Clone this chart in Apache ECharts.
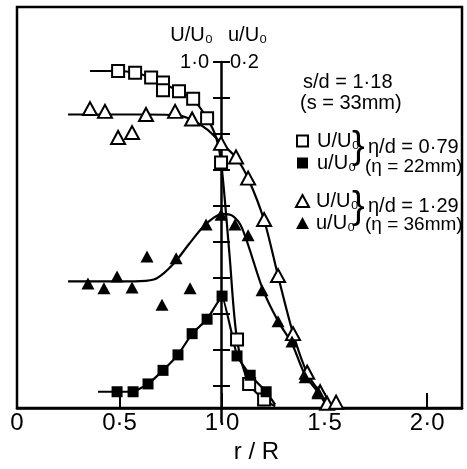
<!DOCTYPE html>
<html>
<head>
<meta charset="utf-8">
<script src="https://cdn.jsdelivr.net/npm/echarts@6/dist/echarts.min.js"></script>
<style>
    html, body { margin: 0; padding: 0; background: #fff; }
    #chart { width: 467px; height: 469px; }
</style>
</head>
<body>
<div id="chart"></div>
<script>
// r/R 轴刻度
const xTicks = [0, 0.5, 1.0, 1.5, 2.0];
// 中间纵轴刻度 (U/U0 与 u/U0)
const bigUTicks = [0.1, 0.2, 0.3, 0.4, 0.5, 0.6, 0.7, 0.8, 0.9, 1.0];

// η/d = 0.79  □ U/U0
const sqOpenR = [0.493, 0.576, 0.654, 0.712, 0.712, 0.790, 0.859, 0.927, 0.995, 1.073, 1.132, 1.205];
const sqOpenU = [0.969, 0.964, 0.950, 0.936, 0.914, 0.911, 0.889, 0.833, 0.706, 0.197, 0.069, 0.025];
const sqOpenCurveR = [0.356, 0.493, 0.576, 0.654, 0.712, 0.790, 0.859, 0.927, 0.970, 0.995, 1.035, 1.073, 1.132, 1.205, 1.259];
const sqOpenCurveU = [0.969, 0.969, 0.964, 0.950, 0.933, 0.911, 0.887, 0.833, 0.780, 0.710, 0.450, 0.197, 0.069, 0.025, 0.005];

// η/d = 0.79  ■ u/U0
const sqFillR = [0.488, 0.566, 0.639, 0.712, 0.785, 0.854, 0.927, 1.000, 1.073, 1.137, 1.215];
const sqFillU = [0.0094, 0.0094, 0.0139, 0.0217, 0.0306, 0.0428, 0.0511, 0.0644, 0.0300, 0.0189, 0.0094];
const sqFillCurveR = [0.395, 0.488, 0.566, 0.639, 0.712, 0.785, 0.854, 0.927, 1.000, 1.073, 1.137, 1.215, 1.259];
const sqFillCurveU = [0.0094, 0.0094, 0.0094, 0.0139, 0.0217, 0.0306, 0.0428, 0.0511, 0.0644, 0.0300, 0.0189, 0.0094, 0.0020];

// η/d = 1.29  △ U/U0
const triOpenR = [0.356, 0.429, 0.493, 0.561, 0.629, 0.771, 0.854, 0.995, 1.068, 1.127, 1.205, 1.273, 1.346, 1.415, 1.478, 1.512, 1.556];
const triOpenU = [0.861, 0.853, 0.778, 0.792, 0.844, 0.853, 0.831, 0.761, 0.722, 0.661, 0.542, 0.381, 0.214, 0.103, 0.047, 0.014, 0.017];
const triOpenCurveR = [0.249, 0.450, 0.630, 0.780, 0.854, 0.930, 0.995, 1.068, 1.127, 1.205, 1.273, 1.346, 1.415, 1.478, 1.530, 1.560];
const triOpenCurveU = [0.844, 0.844, 0.844, 0.842, 0.828, 0.800, 0.762, 0.720, 0.660, 0.540, 0.380, 0.215, 0.100, 0.045, 0.012, 0.000];

// η/d = 1.29  ▲ u/U0
const triFillR = [0.346, 0.424, 0.488, 0.561, 0.634, 0.707, 0.776, 0.844, 0.922, 0.995, 1.063, 1.127, 1.195, 1.273, 1.341, 1.405, 1.468];
const triFillU = [0.0717, 0.0689, 0.0756, 0.0694, 0.0872, 0.0594, 0.0861, 0.0689, 0.1056, 0.1111, 0.1056, 0.0994, 0.0678, 0.0500, 0.0383, 0.0178, 0.0094];
const triFillCurveR = [0.249, 0.450, 0.600, 0.680, 0.760, 0.840, 0.910, 0.960, 1.000, 1.050, 1.098, 1.200, 1.273, 1.341, 1.405, 1.468, 1.507];
const triFillCurveU = [0.0728, 0.0728, 0.0730, 0.0745, 0.0825, 0.0945, 0.1045, 0.1095, 0.1117, 0.1106, 0.1033, 0.0678, 0.0500, 0.0370, 0.0190, 0.0090, 0.0020];

const legendNames = { sqU: 'U/U₀', squ: 'u/U₀', triU: 'U/U₀', triu: 'u/U₀' };

const FONT = '"Liberation Sans", Arial, sans-serif';
const zip = (a, b) => a.map((v, i) => [v, b[i]]);
const dot = v => v === 0 ? '0' : v.toFixed(1).replace('.', '·');

let myChart = echarts.init(document.getElementById('chart'));
let option = {
    animation: false,
    textStyle: { fontFamily: FONT, color: '#000' },
    grid: [
        // 主图框
        { left: 17, top: 7, right: 5, bottom: 47, show: true, borderColor: '#000', borderWidth: 2.5 },
        // r/R = 1.0 处的中间纵轴
        { left: 221, top: 62, width: 1, bottom: 47 }
    ],
    xAxis: [
        {
            type: 'value', gridIndex: 0, min: 0, max: 2.17,
            axisLine: { lineStyle: { color: '#000', width: 2.5 } },
            axisTick: { inside: true, length: 15, customValues: xTicks, lineStyle: { color: '#000', width: 2 } },
            axisLabel: { customValues: xTicks, formatter: dot, fontSize: 24, color: '#000', margin: 3, fontFamily: FONT },
            splitLine: { show: false },
            name: 'r / R', nameLocation: 'middle', nameGap: 27,
            nameTextStyle: { fontSize: 24, color: '#000', padding: [0, 0, 0, 34], fontFamily: FONT }
        },
        { type: 'value', gridIndex: 1, min: 0, max: 1, show: false }
    ],
    yAxis: [
        { type: 'value', gridIndex: 0, min: 0, max: 1.153, show: false },
        { type: 'value', gridIndex: 0, min: 0, max: 0.2306, show: false },
        {
            type: 'value', gridIndex: 1, position: 'left', min: 0, max: 1, interval: 0.1,
            axisLine: { show: true, lineStyle: { color: '#000', width: 2.5 } },
            axisTick: { show: true, length: 8, customValues: bigUTicks, lineStyle: { color: '#000', width: 2 } },
            axisLabel: { customValues: [1.0], formatter: v => v === 1 ? '1·0' : '', fontSize: 20, color: '#000', margin: 12 },
            splitLine: { show: false },
            name: 'U/U₀', nameLocation: 'end', nameGap: 17,
            nameTextStyle: { fontSize: 20, color: '#000', align: 'right', padding: [0, 8, 0, 0] }
        },
        {
            type: 'value', gridIndex: 1, position: 'right', min: 0, max: 0.2, interval: 0.02,
            axisLine: { show: false },
            axisTick: { show: true, length: 8, customValues: bigUTicks.map(v => v * 0.2), lineStyle: { color: '#000', width: 2 } },
            axisLabel: { customValues: [0.2], formatter: v => Math.abs(v - 0.2) < 1e-9 ? '0·2' : '', fontSize: 20, color: '#000', margin: 8 },
            splitLine: { show: false },
            name: 'u/U₀', nameLocation: 'end', nameGap: 17,
            nameTextStyle: { fontSize: 20, color: '#000', align: 'left', padding: [0, 0, 0, 6] }
        }
    ],
    legend: [
        {
            orient: 'vertical', left: 291, top: 126, itemWidth: 11, itemHeight: 11, itemGap: 2,
            textStyle: { fontSize: 20, color: '#000', lineHeight: 20, fontFamily: FONT, padding: [0, 0, 0, 4] },
            formatter: n => legendNames[n],
            selectedMode: false,
            data: [
                { name: 'sqU', icon: 'rect', itemStyle: { color: '#fff', borderColor: '#000', borderWidth: 2 } },
                { name: 'squ', icon: 'rect', itemStyle: { color: '#000' } }
            ]
        },
        {
            orient: 'vertical', left: 290, top: 186, itemWidth: 13, itemHeight: 12, itemGap: 2,
            textStyle: { fontSize: 20, color: '#000', lineHeight: 20, fontFamily: FONT, padding: [0, 0, 0, 2] },
            formatter: n => legendNames[n],
            selectedMode: false,
            data: [
                { name: 'triU', icon: 'triangle', itemStyle: { color: '#fff', borderColor: '#000', borderWidth: 2 } },
                { name: 'triu', icon: 'triangle', itemStyle: { color: '#000' } }
            ]
        }
    ],
    graphic: [
        { type: 'text', x: 303, y: 82, style: { text: 's/d = 1·18', font: '20px ' + FONT, fill: '#000', verticalAlign: 'middle' } },
        { type: 'text', x: 300, y: 103, style: { text: '(s = 33mm)', font: '20px ' + FONT, fill: '#000', verticalAlign: 'middle' } },
        { type: 'text', x: 352, y: 148, style: { text: '}', font: '38px ' + FONT, fill: '#000', verticalAlign: 'middle' } },
        { type: 'text', x: 368, y: 147, style: { text: 'η/d = 0·79', font: '20px ' + FONT, fill: '#000', verticalAlign: 'middle' } },
        { type: 'text', x: 365, y: 167, style: { text: '(η = 22mm)', font: '19px ' + FONT, fill: '#000', verticalAlign: 'middle' } },
        { type: 'text', x: 352, y: 208, style: { text: '}', font: '38px ' + FONT, fill: '#000', verticalAlign: 'middle' } },
        { type: 'text', x: 368, y: 206, style: { text: 'η/d = 1·29', font: '20px ' + FONT, fill: '#000', verticalAlign: 'middle' } },
        { type: 'text', x: 365, y: 225, style: { text: '(η = 36mm)', font: '19px ' + FONT, fill: '#000', verticalAlign: 'middle' } }
    ],
    series: [
        // 拟合曲线
        { name: 'sqU-line', type: 'line', xAxisIndex: 0, yAxisIndex: 0, data: zip(sqOpenCurveR, sqOpenCurveU), smooth: 0.3, showSymbol: false, lineStyle: { color: '#000', width: 2.2 }, z: 2 },
        { name: 'squ-line', type: 'line', xAxisIndex: 0, yAxisIndex: 1, data: zip(sqFillCurveR, sqFillCurveU), smooth: 0.1, showSymbol: false, lineStyle: { color: '#000', width: 2.2 }, z: 2 },
        { name: 'triU-line', type: 'line', xAxisIndex: 0, yAxisIndex: 0, data: zip(triOpenCurveR, triOpenCurveU), smooth: 0.3, showSymbol: false, lineStyle: { color: '#000', width: 2.2 }, z: 2 },
        { name: 'triu-line', type: 'line', xAxisIndex: 0, yAxisIndex: 1, data: zip(triFillCurveR, triFillCurveU), smooth: 0.3, showSymbol: false, lineStyle: { color: '#000', width: 2.2 }, z: 2 },
        // 测点
        { name: 'sqU', type: 'scatter', xAxisIndex: 0, yAxisIndex: 0, data: zip(sqOpenR, sqOpenU), symbol: 'rect', symbolSize: 12, itemStyle: { color: '#fff', borderColor: '#000', borderWidth: 2, opacity: 1 }, z: 5 },
        { name: 'squ', type: 'scatter', xAxisIndex: 0, yAxisIndex: 1, data: zip(sqFillR, sqFillU), symbol: 'rect', symbolSize: 11, itemStyle: { color: '#000', opacity: 1 }, z: 5 },
        { name: 'triU', type: 'scatter', xAxisIndex: 0, yAxisIndex: 0, data: zip(triOpenR, triOpenU), symbol: 'triangle', symbolSize: [14, 13], itemStyle: { color: '#fff', borderColor: '#000', borderWidth: 2, opacity: 1 }, z: 5 },
        { name: 'triu', type: 'scatter', xAxisIndex: 0, yAxisIndex: 1, data: zip(triFillR, triFillU), symbol: 'triangle', symbolSize: [13, 12], itemStyle: { color: '#000', opacity: 1 }, z: 5 }
    ]
};
myChart.setOption(option);

window.addEventListener('resize', function () {
    myChart.resize();
});
</script>
</body>
</html>
